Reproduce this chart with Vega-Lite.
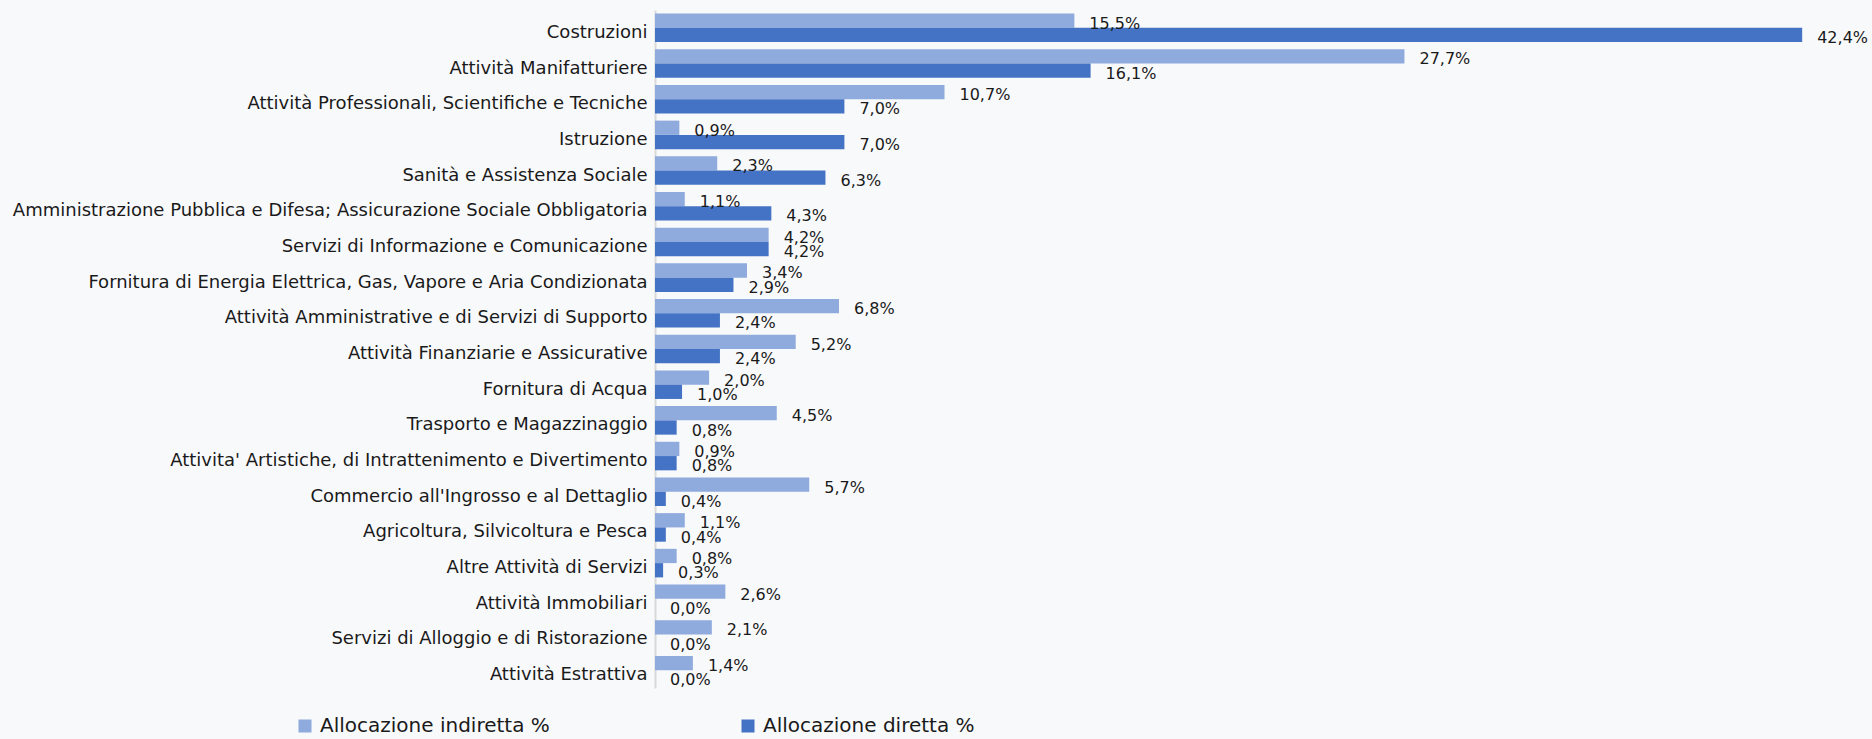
{
  "$schema": "https://vega.github.io/schema/vega-lite/v6.json",
  "autosize": {"type": "none"},
  "width": 1204,
  "height": 678,
  "padding": {"left": 655, "top": 10, "right": 13, "bottom": 51},
  "background": "#f8f9fb",
  "config": {
    "view": {"stroke": null},
    "locale": {"number": {"decimal": ",", "thousands": ".", "grouping": [3], "currency": ["", " €"]}},
    "font": "DejaVu Sans"
  },
  "data": {
    "values": [
      {"settore": "Costruzioni", "serie": "Allocazione indiretta %", "valore": 0.155},
      {"settore": "Costruzioni", "serie": "Allocazione diretta %", "valore": 0.424},
      {"settore": "Attività Manifatturiere", "serie": "Allocazione indiretta %", "valore": 0.277},
      {"settore": "Attività Manifatturiere", "serie": "Allocazione diretta %", "valore": 0.161},
      {"settore": "Attività Professionali, Scientifiche e Tecniche", "serie": "Allocazione indiretta %", "valore": 0.107},
      {"settore": "Attività Professionali, Scientifiche e Tecniche", "serie": "Allocazione diretta %", "valore": 0.070},
      {"settore": "Istruzione", "serie": "Allocazione indiretta %", "valore": 0.009},
      {"settore": "Istruzione", "serie": "Allocazione diretta %", "valore": 0.070},
      {"settore": "Sanità e Assistenza Sociale", "serie": "Allocazione indiretta %", "valore": 0.023},
      {"settore": "Sanità e Assistenza Sociale", "serie": "Allocazione diretta %", "valore": 0.063},
      {"settore": "Amministrazione Pubblica e Difesa; Assicurazione Sociale Obbligatoria", "serie": "Allocazione indiretta %", "valore": 0.011},
      {"settore": "Amministrazione Pubblica e Difesa; Assicurazione Sociale Obbligatoria", "serie": "Allocazione diretta %", "valore": 0.043},
      {"settore": "Servizi di Informazione e Comunicazione", "serie": "Allocazione indiretta %", "valore": 0.042},
      {"settore": "Servizi di Informazione e Comunicazione", "serie": "Allocazione diretta %", "valore": 0.042},
      {"settore": "Fornitura di Energia Elettrica, Gas, Vapore e Aria Condizionata", "serie": "Allocazione indiretta %", "valore": 0.034},
      {"settore": "Fornitura di Energia Elettrica, Gas, Vapore e Aria Condizionata", "serie": "Allocazione diretta %", "valore": 0.029},
      {"settore": "Attività Amministrative e di Servizi di Supporto", "serie": "Allocazione indiretta %", "valore": 0.068},
      {"settore": "Attività Amministrative e di Servizi di Supporto", "serie": "Allocazione diretta %", "valore": 0.024},
      {"settore": "Attività Finanziarie e Assicurative", "serie": "Allocazione indiretta %", "valore": 0.052},
      {"settore": "Attività Finanziarie e Assicurative", "serie": "Allocazione diretta %", "valore": 0.024},
      {"settore": "Fornitura di Acqua", "serie": "Allocazione indiretta %", "valore": 0.020},
      {"settore": "Fornitura di Acqua", "serie": "Allocazione diretta %", "valore": 0.010},
      {"settore": "Trasporto e Magazzinaggio", "serie": "Allocazione indiretta %", "valore": 0.045},
      {"settore": "Trasporto e Magazzinaggio", "serie": "Allocazione diretta %", "valore": 0.008},
      {"settore": "Attivita' Artistiche, di Intrattenimento e Divertimento", "serie": "Allocazione indiretta %", "valore": 0.009},
      {"settore": "Attivita' Artistiche, di Intrattenimento e Divertimento", "serie": "Allocazione diretta %", "valore": 0.008},
      {"settore": "Commercio all'Ingrosso e al Dettaglio", "serie": "Allocazione indiretta %", "valore": 0.057},
      {"settore": "Commercio all'Ingrosso e al Dettaglio", "serie": "Allocazione diretta %", "valore": 0.004},
      {"settore": "Agricoltura, Silvicoltura e Pesca", "serie": "Allocazione indiretta %", "valore": 0.011},
      {"settore": "Agricoltura, Silvicoltura e Pesca", "serie": "Allocazione diretta %", "valore": 0.004},
      {"settore": "Altre Attività di Servizi", "serie": "Allocazione indiretta %", "valore": 0.008},
      {"settore": "Altre Attività di Servizi", "serie": "Allocazione diretta %", "valore": 0.003},
      {"settore": "Attività Immobiliari", "serie": "Allocazione indiretta %", "valore": 0.026},
      {"settore": "Attività Immobiliari", "serie": "Allocazione diretta %", "valore": 0.000},
      {"settore": "Servizi di Alloggio e di Ristorazione", "serie": "Allocazione indiretta %", "valore": 0.021},
      {"settore": "Servizi di Alloggio e di Ristorazione", "serie": "Allocazione diretta %", "valore": 0.000},
      {"settore": "Attività Estrattiva", "serie": "Allocazione indiretta %", "valore": 0.014},
      {"settore": "Attività Estrattiva", "serie": "Allocazione diretta %", "valore": 0.000}
    ]
  },
  "encoding": {
    "y": {
      "field": "settore", "type": "nominal", "sort": null,
      "scale": {"paddingInner": 0.2, "paddingOuter": 0.1},
      "axis": {
        "title": null, "ticks": false, "labelPadding": 8, "labelLimit": 0,
        "labelFont": "DejaVu Sans", "labelFontSize": 18, "labelColor": "#1a1a1a",
        "labelOffset": 5, "domainColor": "#d9d9d9", "domainWidth": 2, "grid": false
      }
    },
    "yOffset": {
      "field": "serie", "type": "nominal",
      "sort": ["Allocazione indiretta %", "Allocazione diretta %"],
      "scale": {"paddingInner": 0, "paddingOuter": 0}
    },
    "x": {
      "field": "valore", "type": "quantitative",
      "scale": {"domain": [0, 0.445], "nice": false, "zero": true},
      "axis": null
    }
  },
  "layer": [
    {
      "mark": {"type": "bar"},
      "encoding": {
        "color": {
          "field": "serie", "type": "nominal",
          "scale": {"domain": ["Allocazione indiretta %", "Allocazione diretta %"], "range": ["#8faadc", "#4472c4"]},
          "legend": {
            "title": null, "orient": "none", "direction": "horizontal",
            "legendX": -360, "legendY": 706, "symbolType": "square", "symbolSize": 169,
            "symbolStrokeWidth": 0, "labelFont": "DejaVu Sans", "labelFontSize": 20,
            "labelColor": "#1a1a1a", "labelOffset": 5, "columnPadding": 188, "labelLimit": 0, "padding": 0
          }
        }
      }
    },
    {
      "mark": {"type": "text", "align": "left", "baseline": "middle", "dx": 15, "dy": 3, "font": "DejaVu Sans", "fontSize": 16, "color": "#1a1a1a"},
      "encoding": {
        "text": {"field": "valore", "type": "quantitative", "format": ".1%"}
      }
    }
  ]
}
